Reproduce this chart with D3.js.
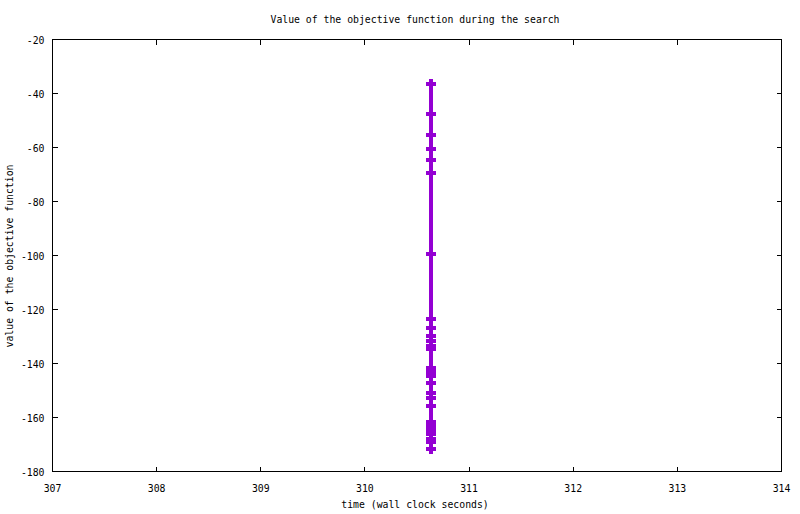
<!DOCTYPE html>
<html>
<head>
<meta charset="utf-8">
<script src="https://cdn.jsdelivr.net/npm/d3@7/dist/d3.min.js"></script>
<style>
body{margin:0;background:#fff;}
text{font-family:"DejaVu Sans Mono",monospace;font-size:9.8px;fill:#000;}
</style>
</head>
<body>
<svg id="c" width="800" height="514"></svg>
<script>
const title = "Value of the objective function during the search";
const xLabel = "time (wall clock seconds)";
const yLabel = "value of the objective function";
const xTicks = [307,308,309,310,311,312,313,314];
const yTicks = [-180,-160,-140,-120,-100,-80,-60,-40,-20];
const times = [310.633,310.633,310.633,310.633,310.633,310.633,310.633,310.633,310.633,310.633,310.633,310.633,310.633,310.633,310.633,310.633,310.633,310.633,310.633,310.633,310.633,310.633,310.633,310.633,310.633,310.633,310.633];
const values = [-36.6,-47.7,-55.4,-60.6,-64.7,-69.5,-99.6,-123.6,-126.9,-129.9,-131.7,-133.5,-134.8,-141.5,-143.3,-144.5,-147.3,-151,-152.9,-155.8,-161.8,-163,-164.8,-166,-168,-169,-171.7];

const svg = d3.select("#c");
const L=52.5, R=781.5, T=39.5, B=471.5;
const x = d3.scaleLinear().domain([307,314]).range([L,R]);
const y = d3.scaleLinear().domain([-180,-20]).range([B,T]);
const tl = 5;

const g = svg.append("g").attr("shape-rendering","crispEdges");
// ticks
xTicks.forEach(t=>{
  g.append("line").attr("x1",x(t)).attr("x2",x(t)).attr("y1",B).attr("y2",B-tl).attr("stroke","#000");
  g.append("line").attr("x1",x(t)).attr("x2",x(t)).attr("y1",T).attr("y2",T+tl).attr("stroke","#000");
  svg.append("text").attr("x",x(t)).attr("y",B+20).attr("text-anchor","middle").text(t);
});
yTicks.forEach(t=>{
  g.append("line").attr("x1",L).attr("x2",L+tl).attr("y1",y(t)).attr("y2",y(t)).attr("stroke","#000");
  g.append("line").attr("x1",R).attr("x2",R-tl).attr("y1",y(t)).attr("y2",y(t)).attr("stroke","#000");
  svg.append("text").attr("x",L-8).attr("y",y(t)+4).attr("text-anchor","end").text(t);
});
g.append("rect").attr("x",L).attr("y",T).attr("width",R-L).attr("height",B-T).attr("fill","none").attr("stroke","#000");

svg.append("text").attr("x",415).attr("y",23).attr("text-anchor","middle").text(title);
svg.append("text").attr("x",415).attr("y",508).attr("text-anchor","middle").text(xLabel);
svg.append("text").attr("transform","translate(13,256) rotate(-90)").attr("text-anchor","middle").text(yLabel);

const pts = times.map((t,i)=>[t,values[i]]);
const pg = svg.append("g").attr("shape-rendering","crispEdges");
pg.append("path").attr("d",d3.line().x(d=>x(d[0])).y(d=>y(d[1]))(pts))
  .attr("fill","none").attr("stroke","#9400d3").attr("stroke-width",4);
pg.selectAll("path.m").data(pts).enter().append("path").attr("class","m")
  .attr("transform",d=>`translate(${x(d[0])},${y(d[1])})`)
  .attr("d","M-5,0H5M0,-5V5").attr("stroke","#9400d3").attr("stroke-width",4).attr("fill","none");
</script>
</body>
</html>
